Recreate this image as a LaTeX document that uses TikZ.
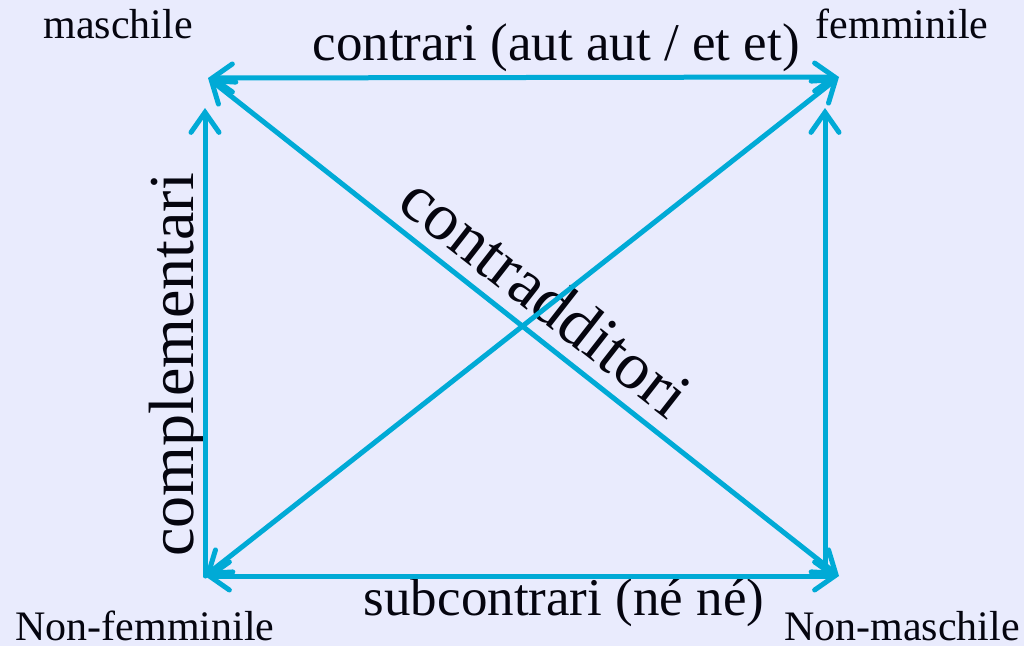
\documentclass[tikz,border=0pt]{standalone}
\usepackage{fontspec}
\setmainfont{Liberation Serif}
\usepackage{xcolor}
\usetikzlibrary{arrows.meta, positioning}
\definecolor{sky}{HTML}{00AAD6}
\definecolor{lavender}{HTML}{E9EBFD}
\definecolor{ink}{HTML}{05050F}
\tikzset{
  corner/.style={text=ink, font=\fontsize{42}{48}\selectfont, inner sep=0pt, anchor=base},
  relation/.style={text=ink, font=\fontsize{53}{60}\selectfont, inner sep=0pt, anchor=base},
  bigrel/.style={text=ink, font=\fontsize{64}{72}\selectfont, inner sep=0pt},
  link/.style={draw=sky, line width=5pt, line cap=round, {Straight Barb[length=20pt, width=28pt, line cap=round]}-{Straight Barb[length=20pt, width=28pt, line cap=round]}},
  uplink/.style={draw=sky, line width=5pt, line cap=round, -{Straight Barb[length=20pt, width=28pt, line cap=round]}},
}
\begin{document}
\begin{tikzpicture}[x=1pt, y=-1pt]
  \fill[lavender] (0,0) rectangle (1024,646);
  \useasboundingbox (0,0) rectangle (1024,646);
  % corners of the square
  \coordinate (masc) at (208,78);
  \coordinate (fem) at (839,77);
  \coordinate (nonfem) at (205,576);
  \coordinate (nonmasc) at (839,576);
  \coordinate (femv) at (825,77);
  \coordinate (nonmascv) at (825,566);
  % labels
  \node[corner] (lmasc) at (118,38) {maschile};
  \node[corner] (lfem) at (902,38) {femminile};
  \node[corner] (lnonfem) at (145,640) {Non-femminile};
  \node[corner] (lnonmasc) at (902,640) {Non-maschile};
  \node[relation] (contrari) at (556,60) {contrari (aut aut / et et)};
  \node[relation] (subcontrari) at (564,615) {subcontrari (né né)};
  \node[bigrel, rotate=90, anchor=base] (compl) at (193,365) {complementari};
  \node[bigrel, rotate=-38, font=\fontsize{67}{74}\selectfont] (contrad) at (546,296) {contradditori};
  % connectors
  \draw[link] (masc) -- (fem);
  \draw[link] (nonfem) -- (nonmasc);
  \draw[link] (masc) -- (nonmasc);
  \draw[link] (nonfem) -- (fem);
  \draw[uplink, shorten >=30pt] (nonfem) -- (nonfem |- masc);
  \draw[uplink, shorten >=31pt] (nonmascv) -- (femv);
\end{tikzpicture}
\end{document}
